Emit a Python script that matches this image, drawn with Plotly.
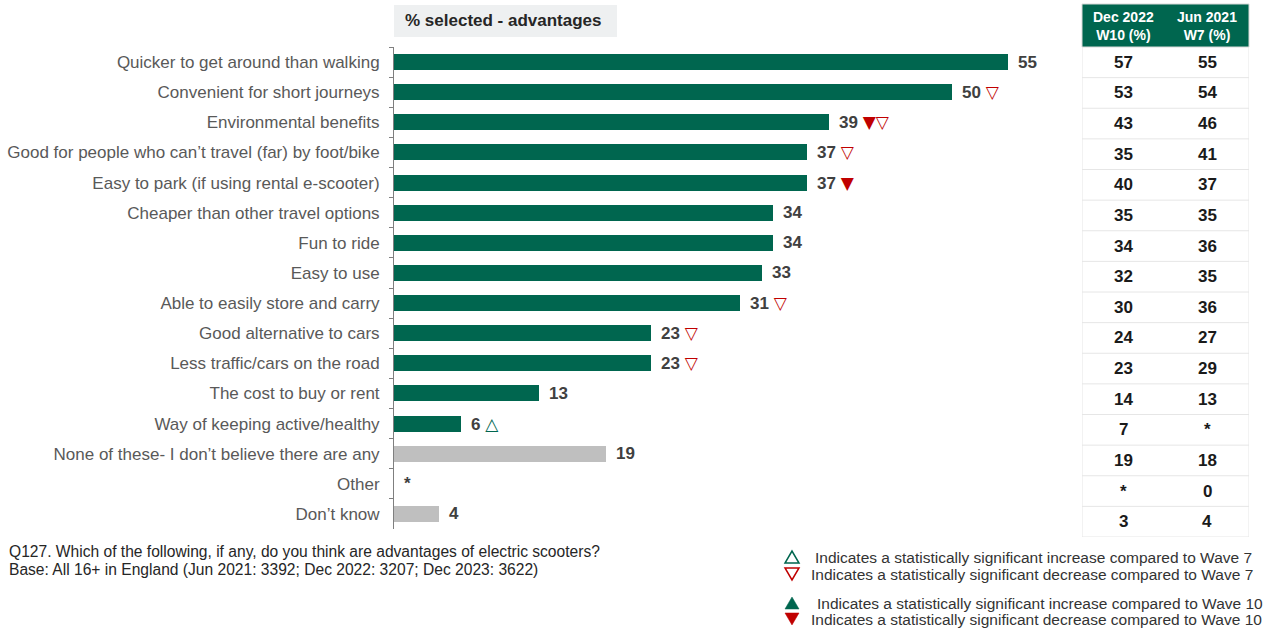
import plotly.graph_objects as go

# ---- data ----
categories = [
    "Quicker to get around than walking",
    "Convenient for short journeys",
    "Environmental benefits",
    "Good for people who can\u2019t travel (far) by foot/bike",
    "Easy to park (if using rental e-scooter)",
    "Cheaper than other travel options",
    "Fun to ride",
    "Easy to use",
    "Able to easily store and carry",
    "Good alternative to cars",
    "Less traffic/cars on the road",
    "The cost to buy or rent",
    "Way of keeping active/healthy",
    "None of these- I don\u2019t believe there are any",
    "Other",
    "Don\u2019t know",
]
dec2023 = [55, 50, 39, 37, 37, 34, 34, 33, 31, 23, 23, 13, 6, 19, 0, 4]
dec2023_labels = ["55", "50", "39", "37", "37", "34", "34", "33", "31", "23", "23",
                  "13", "6", "19", "*", "4"]
is_substantive = [True] * 13 + [False] * 3
# significance flags: vs Wave 10 (filled) and vs Wave 7 (hollow)
sig_w10 = [None, None, "down", None, "down", None, None, None, None, None, None,
           None, None, None, None, None]
sig_w7 = [None, "down", "down", "down", None, None, None, None, "down", "down", "down",
          None, "up", None, None, None]
dec2022_w10 = ["57", "53", "43", "35", "40", "35", "34", "32", "30", "24", "23", "14",
               "7", "19", "*", "3"]
jun2021_w7 = ["55", "54", "46", "41", "37", "35", "36", "35", "36", "27", "29", "13",
              "*", "18", "0", "4"]
table_headers = ["Dec 2022<br>W10 (%)", "Jun 2021<br>W7 (%)"]

# ---- styling ----
W, H = 1269, 629
GREEN = "#00664F"
GREY_BAR = "#BFBFBF"
RED = "#C00000"
FONT = "Liberation Sans, Arial, sans-serif"


def px_x(p):
    return p / W


def px_y(p):
    return 1 - p / H


fig = go.Figure()

fig.add_trace(go.Bar(
    x=dec2023,
    y=categories,
    orientation="h",
    marker=dict(color=[GREEN if s else GREY_BAR for s in is_substantive], line=dict(width=0)),
    width=0.53,
    hoverinfo="skip",
    xaxis="x", yaxis="y",
))

annotations = []
glyph = {("w10", "down"): "\u25BC", ("w10", "up"): "\u25B2",
         ("w7", "down"): "\u25BD", ("w7", "up"): "\u25B3"}
glyph_style = "font-family:DejaVu Sans;font-size:17px;color:{}"
for cat, v, lab, a, b in zip(categories, dec2023, dec2023_labels, sig_w10, sig_w7):
    txt = f"<b>{lab}</b>"
    marks = ""
    if a:
        col = RED if a == "down" else GREEN
        marks += f"<span style='{glyph_style.format(col)}'>{glyph[('w10', a)]}</span>"
    if b:
        col = RED if b == "down" else GREEN
        marks += f"<span style='{glyph_style.format(col)}'>{glyph[('w7', b)]}</span>"
    if marks:
        txt += " " + marks
    annotations.append(dict(
        x=v, y=cat, xref="x", yref="y", text=txt, showarrow=False,
        xanchor="left", yanchor="middle", xshift=8,
        font=dict(family=FONT, size=17, color="#404040"),
    ))

# title box above the bars
shapes = [dict(type="rect", xref="paper", yref="paper",
               x0=px_x(394), x1=px_x(617), y0=px_y(37), y1=px_y(5),
               fillcolor="#EEF0F1", line=dict(width=0), layer="below")]
annotations.append(dict(x=px_x(503), y=px_y(21), xref="paper", yref="paper",
                        text="<b>% selected - advantages</b>", showarrow=False,
                        xanchor="center", yanchor="middle",
                        font=dict(family=FONT, size=17, color="#262626")))

# comparison table on the right
tx0, tx1 = px_x(1082), px_x(1249)
shapes.append(dict(type="rect", xref="paper", yref="paper", x0=tx0, x1=tx1,
                   y0=px_y(47), y1=px_y(4), fillcolor=GREEN,
                   line=dict(color="#D9D9D9", width=1)))
for i, h in enumerate(table_headers):
    annotations.append(dict(x=i + 0.5, y=px_y(25.5), xref="x2", yref="paper",
                            text=f"<b>{h}</b>", showarrow=False,
                            xanchor="center", yanchor="middle",
                            font=dict(family=FONT, size=14, color="white")))
n = len(categories)
for k in range(n):
    shapes.append(dict(type="line", xref="x2", yref="y2", x0=0, x1=2,
                       y0=k + 0.5, y1=k + 0.5, line=dict(color="#E6E6E6", width=1)))
for xv in (0, 2):
    shapes.append(dict(type="line", xref="x2", yref="y2", x0=xv, x1=xv,
                       y0=-0.5, y1=n - 0.5, line=dict(color="#E6E6E6", width=1)))
for k in range(n):
    for j, col in enumerate((dec2022_w10, jun2021_w7)):
        annotations.append(dict(x=j + 0.5, y=k, xref="x2", yref="y2",
                                text=f"<b>{col[k]}</b>", showarrow=False,
                                xanchor="center", yanchor="middle",
                                font=dict(family=FONT, size=17, color="#1A1A1A")))

# footnote
footnote = [
    ("Q127. Which of the following, if any, do you think are advantages of electric scooters?", 551),
    ("Base: All 16+ in England (Jun 2021: 3392; Dec 2022: 3207; Dec 2023: 3622)", 569),
]
for t, yy in footnote:
    annotations.append(dict(
        x=px_x(7), y=px_y(yy), xref="paper", yref="paper", showarrow=False,
        xanchor="left", yanchor="middle", text=t,
        font=dict(family=FONT, size=15.6, color="#262626"),
    ))

# significance key: triangle markers drawn as shapes, text beside them
key_rows = [
    ("up", False, GREEN, "Indicates a statistically significant increase compared to Wave 7", 557, 813),
    ("down", False, RED, "Indicates a statistically significant decrease compared to Wave 7", 574, 809),
    ("up", True, GREEN, "Indicates a statistically significant increase compared to Wave 10", 603, 815),
    ("down", True, RED, "Indicates a statistically significant decrease compared to Wave 10", 619, 809),
]
cx, hw, hh = 792, 7, 6
for d, filled, c, t, yy, xt in key_rows:
    if d == "up":
        pts = [(cx - hw, yy + hh), (cx + hw, yy + hh), (cx, yy - hh)]
    else:
        pts = [(cx - hw, yy - hh), (cx + hw, yy - hh), (cx, yy + hh)]
    path = "M " + " L ".join(f"{px_x(a):.5f},{px_y(b):.5f}" for a, b in pts) + " Z"
    shapes.append(dict(type="path", xref="paper", yref="paper", path=path,
                       fillcolor=c if filled else "rgba(0,0,0,0)",
                       line=dict(color=c, width=1.5 if not filled else 0.5)))
    annotations.append(dict(x=px_x(xt), y=px_y(yy), xref="paper", yref="paper",
                            text=t, showarrow=False, xanchor="left", yanchor="middle",
                            font=dict(family=FONT, size=15.5, color="#333333")))

fig.update_layout(
    width=W, height=H,
    margin=dict(l=0, r=0, t=0, b=0),
    paper_bgcolor="white", plot_bgcolor="white",
    showlegend=False,
    bargap=0,
    xaxis=dict(domain=[px_x(394), px_x(1075)], range=[0, 61.02], visible=False,
               fixedrange=True),
    yaxis=dict(domain=[px_y(529), px_y(47)], type="category",
               categoryorder="array", categoryarray=categories,
               autorange="reversed", showline=True, linecolor="#7F7F7F", linewidth=1,
               ticks="outside", tickson="boundaries", ticklen=4, tickcolor="#7F7F7F",
               showgrid=False, zeroline=False, ticklabelstandoff=10,
               tickfont=dict(family=FONT, size=17, color="#595959")),
    xaxis2=dict(domain=[tx0, tx1], range=[0, 2], visible=False, anchor="y2"),
    yaxis2=dict(domain=[px_y(537), px_y(47)], range=[n - 0.5, -0.5], visible=False,
                anchor="x2"),
    shapes=shapes,
    annotations=annotations,
)

fig.write_html("out.html")
